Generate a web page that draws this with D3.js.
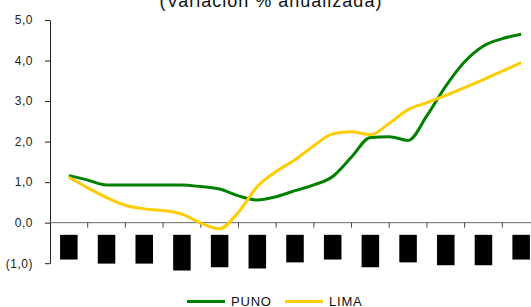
<!DOCTYPE html>
<html>
<head>
<meta charset="utf-8">
<script src="https://cdn.jsdelivr.net/npm/d3@7"></script>
<style>
  body { margin: 0; background: #fff; }
  svg { display: block; font-family: "Liberation Sans", Arial, sans-serif; }
</style>
</head>
<body>
<svg id="canvas" width="531" height="307"></svg>
<script>
// 13 periods on the category axis, two observations per period
let categories = ["p1", "p2", "p3", "p4", "p5", "p6", "p7", "p8", "p9", "p10", "p11", "p12", "p13"];
let puno = [1.16, 1.05, 0.93, 0.93, 0.93, 0.93, 0.93, 0.89, 0.83, 0.66, 0.56, 0.64, 0.79,
            0.93, 1.14, 1.62, 2.10, 2.12, 2.03, 2.64, 3.37, 3.97, 4.36, 4.54, 4.65];
let lima = [1.12, 0.86, 0.62, 0.43, 0.34, 0.30, 0.21, -0.01, -0.15, 0.26, 0.89, 1.26, 1.55,
            1.90, 2.19, 2.24, 2.17, 2.45, 2.79, 2.96, 3.14, 3.33, 3.53, 3.74, 3.95];
// the category labels are blacked out in the source: boxes from -0.30 down to these values
let labelBoxTop = -0.30;
let labelBoxBottom = [-0.91, -1.01, -1.01, -1.18, -1.10, -1.13, -0.98, -0.91, -1.10, -0.98, -1.05, -1.05, -0.91];
let yTicks = [-1, 0, 1, 2, 3, 4, 5];
let seriesNames = ["PUNO", "LIMA"];
let seriesColors = ["#008000", "#FFCC00"];

let svg = d3.select("#canvas");

let x = d3.scaleBand()
          .domain(categories)
          .range([50, 540])
          .paddingInner(0.535)
          .paddingOuter(0.2675);

let y = d3.scaleLinear()
          .domain([-1, 5])
          .range([263.2, 20]);

let center = (d) => x(d) + x.bandwidth() / 2;
let xPoint = d3.scaleLinear()
               .domain([0, puno.length - 1])
               .range([center(categories[0]), center(categories[categories.length - 1])]);

// title (cut off at the top in the source)
svg.append("text")
   .attr("x", 271)
   .attr("y", 6.5)
   .attr("text-anchor", "middle")
   .attr("font-size", 18)
   .attr("letter-spacing", 1)
   .attr("fill", "#111")
   .text("(Variación % anualizada)");

// y axis
let fmt = (v) => {
  let s = d3.format(".1f")(Math.abs(v)).replace(".", ",");
  return v < 0 ? "(" + s + ")" : s;
};
let yAxis = svg.append("g")
   .attr("transform", "translate(50,0)")
   .call(d3.axisLeft(y).tickValues(yTicks).tickSize(5).tickSizeOuter(0).tickPadding(12).tickFormat(fmt));
yAxis.select(".domain").attr("stroke", "#222");
yAxis.selectAll(".tick line").attr("stroke", "#222");
yAxis.selectAll(".tick text")
     .attr("font-size", 12)
     .attr("letter-spacing", 0.5)
     .attr("fill", "#222")
     .attr("font-family", "Liberation Sans, Arial, sans-serif");

// x axis at zero with ticks between categories
let step = x.step();
svg.append("line")
   .attr("x1", 50).attr("x2", 531)
   .attr("y1", y(0)).attr("y2", y(0))
   .attr("stroke", "#666").attr("stroke-width", 1);
svg.selectAll(".xtick")
   .data(categories)
   .enter()
   .append("line")
   .attr("class", "xtick")
   .attr("x1", (d) => x(d) + x.bandwidth() + step * x.paddingInner() / 2)
   .attr("x2", (d) => x(d) + x.bandwidth() + step * x.paddingInner() / 2)
   .attr("y1", y(0)).attr("y2", y(0) + 5)
   .attr("stroke", "#444");

// blacked-out category labels
svg.selectAll(".labelbox")
   .data(categories)
   .enter()
   .append("rect")
   .attr("class", "labelbox")
   .attr("x", (d) => x(d))
   .attr("width", x.bandwidth())
   .attr("y", y(labelBoxTop))
   .attr("height", (d, i) => y(labelBoxBottom[i]) - y(labelBoxTop))
   .attr("fill", "#000");

// lines
let line = d3.line()
             .x((d, i) => xPoint(i))
             .y((d) => y(d))
             .curve(d3.curveMonotoneX);

[puno, lima].forEach((series, k) => {
  svg.append("path")
     .datum(series)
     .attr("d", line)
     .attr("fill", "none")
     .attr("stroke", seriesColors[k])
     .attr("stroke-width", 3)
     .attr("stroke-linejoin", "round");
});

// legend
let legendX = [187, 285];
let legend = svg.selectAll(".legend")
   .data(seriesNames)
   .enter()
   .append("g")
   .attr("class", "legend")
   .attr("transform", (d, i) => "translate(" + legendX[i] + ",301.5)");
legend.append("line")
      .attr("x1", 0).attr("x2", 38)
      .attr("stroke", (d, i) => seriesColors[i])
      .attr("stroke-width", 3);
legend.append("text")
      .attr("x", 44)
      .attr("y", 4)
      .attr("font-size", 13)
      .attr("letter-spacing", 0.8)
      .attr("fill", "#111")
      .text((d) => d);
</script>
</body>
</html>
